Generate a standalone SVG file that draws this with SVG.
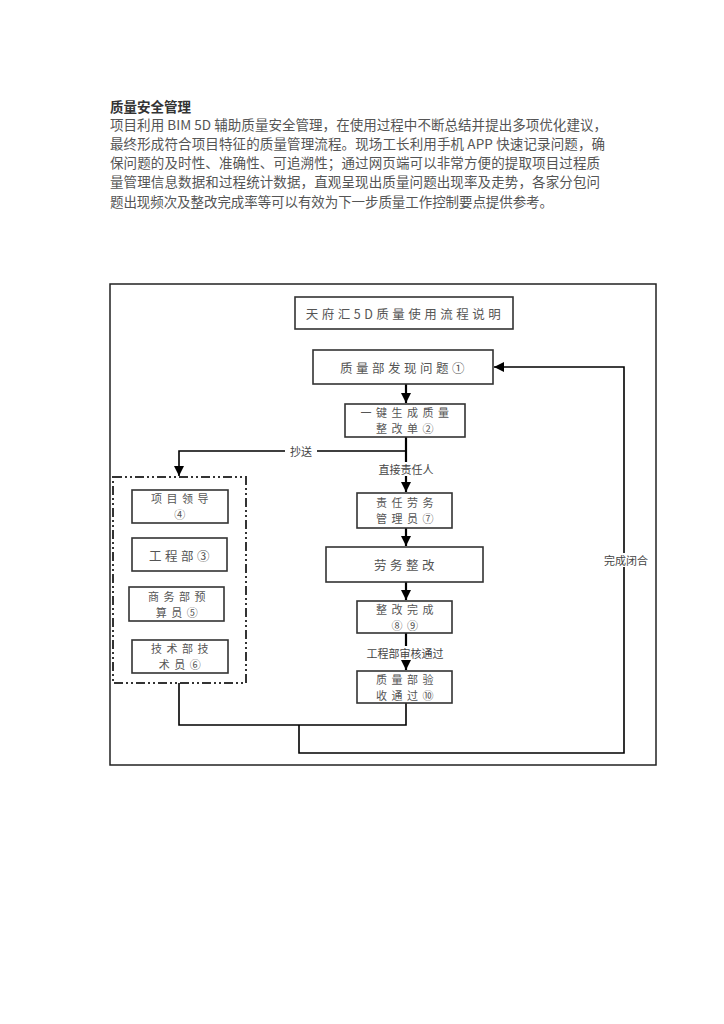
<svg xmlns="http://www.w3.org/2000/svg" width="724" height="1024" viewBox="0 0 724 1024">
<defs>
<marker id="arr" markerUnits="userSpaceOnUse" markerWidth="12" markerHeight="12" refX="10" refY="5" orient="auto">
<path d="M0,0 L10,5 L0,10 Z" fill="#000"/>
</marker>
<style>
.para{font-family:"Noto Sans CJK SC","Noto Sans",sans-serif;font-size:13.5px;fill:#555}
.head{font-family:"Noto Sans CJK SC","Noto Sans",sans-serif;font-size:13.5px;font-weight:bold;fill:#333}
.box{fill:#fff;stroke:#333;stroke-width:1.6}
.t{font-family:"Noto Sans CJK SC",sans-serif;font-size:12.5px;fill:#555;text-anchor:middle;dominant-baseline:central;letter-spacing:3.5px}
.t2{font-family:"Noto Sans CJK SC",sans-serif;font-size:11px;fill:#555;text-anchor:middle;dominant-baseline:central;letter-spacing:4.5px}
.lbl{font-family:"Noto Sans CJK SC",sans-serif;font-size:11px;fill:#444;text-anchor:middle;dominant-baseline:central}
.bg{fill:#fff}
.ln{fill:none;stroke:#000;stroke-width:2.2}
.lnt{fill:none;stroke:#000;stroke-width:1.6}
</style>
</defs>
<rect width="724" height="1024" fill="#fff"/>
<g id="text-block">
<text class="head" x="110" y="112">质量安全管理</text>
<text class="para" x="110" y="130" textLength="497" lengthAdjust="spacing">项目利用 BIM 5D 辅助质量安全管理，在使用过程中不断总结并提出多项优化建议，</text>
<text class="para" x="110" y="149" textLength="495" lengthAdjust="spacing">最终形成符合项目特征的质量管理流程。现场工长利用手机 APP 快速记录问题，确</text>
<text class="para" x="110" y="168" textLength="490" lengthAdjust="spacing">保问题的及时性、准确性、可追溯性；通过网页端可以非常方便的提取项目过程质</text>
<text class="para" x="110" y="187" textLength="490" lengthAdjust="spacing">量管理信息数据和过程统计数据，直观呈现出质量问题出现率及走势，各家分包问</text>
<text class="para" x="110" y="207" textLength="443" lengthAdjust="spacing">题出现频次及整改完成率等可以有效为下一步质量工作控制要点提供参考。</text>
</g>
<g id="frame">
<rect x="110" y="284" width="546" height="481" fill="none" stroke="#222" stroke-width="1.5"/>
</g>
<g id="connectors">
<path class="ln" d="M406,384 V403" marker-end="url(#arr)"/>
<path class="ln" d="M406,437 V492" marker-end="url(#arr)"/>
<path class="lnt" d="M406,451 H179 V476" marker-end="url(#arr)"/>
<path class="ln" d="M406,528 V546" marker-end="url(#arr)"/>
<path class="ln" d="M406,582 V600" marker-end="url(#arr)"/>
<path class="ln" d="M406,633 V670" marker-end="url(#arr)"/>
<path class="lnt" d="M406,703 V725 H179 V683"/>
<path class="lnt" d="M299,725 V753 H624 V367 H494" marker-end="url(#arr)"/>
<rect class="bg" x="285" y="444" width="32" height="14"/>
<text class="lbl" x="301" y="451">抄送</text>
<rect class="bg" x="371" y="462" width="70" height="14"/>
<text class="lbl" x="406" y="469">直接责任人</text>
<rect class="bg" x="355" y="646" width="100" height="14"/>
<text class="lbl" x="405" y="653">工程部审核通过</text>
<rect class="bg" x="598" y="553" width="56" height="14"/>
<text class="lbl" x="626" y="560">完成闭合</text>
</g>
<g id="title">
<rect class="box" x="295" y="297" width="218" height="32"/>
<text class="t" x="405" y="313">天府汇5D质量使用流程说明</text>
</g>
<g id="n1">
<rect class="box" x="313" y="350" width="180" height="34"/>
<text class="t" x="404" y="367">质量部发现问题①</text>
</g>
<g id="n2">
<rect class="box" x="345" y="404" width="120" height="33"/>
<text class="t2" x="407" y="412">一键生成质量</text>
<text class="t2" x="407" y="428">整改单②</text>
</g>
<g id="group">
<rect x="113" y="477" width="133" height="206" fill="none" stroke="#333" stroke-width="2" stroke-dasharray="9 3 2 3 2 3"/>
</g>
<g id="n4">
<rect class="box" x="132" y="490" width="96" height="33"/>
<text class="t2" x="182" y="498">项目领导</text>
<text class="t2" x="182" y="514">④</text>
</g>
<g id="n3">
<rect class="box" x="132" y="538" width="95" height="33"/>
<text class="t" x="181" y="555">工程部③</text>
</g>
<g id="n5">
<rect class="box" x="129" y="587" width="95" height="34"/>
<text class="t2" x="179" y="596">商务部预</text>
<text class="t2" x="179" y="612">算员⑤</text>
</g>
<g id="n6">
<rect class="box" x="132" y="640" width="96" height="33"/>
<text class="t2" x="182" y="648">技术部技</text>
<text class="t2" x="182" y="664">术员⑥</text>
</g>
<g id="n7">
<rect class="box" x="357" y="493" width="95" height="35"/>
<text class="t2" x="407" y="502">责任劳务</text>
<text class="t2" x="407" y="518">管理员⑦</text>
</g>
<g id="nw">
<rect class="box" x="326" y="547" width="157" height="35"/>
<text class="t" x="406" y="564">劳务整改</text>
</g>
<g id="n89">
<rect class="box" x="357" y="601" width="95" height="32"/>
<text class="t2" x="407" y="609">整改完成</text>
<text class="t2" x="407" y="625">⑧⑨</text>
</g>
<g id="n10">
<rect class="box" x="357" y="671" width="95" height="32"/>
<text class="t2" x="407" y="679">质量部验</text>
<text class="t2" x="407" y="695">收通过⑩</text>
</g>
</svg>
